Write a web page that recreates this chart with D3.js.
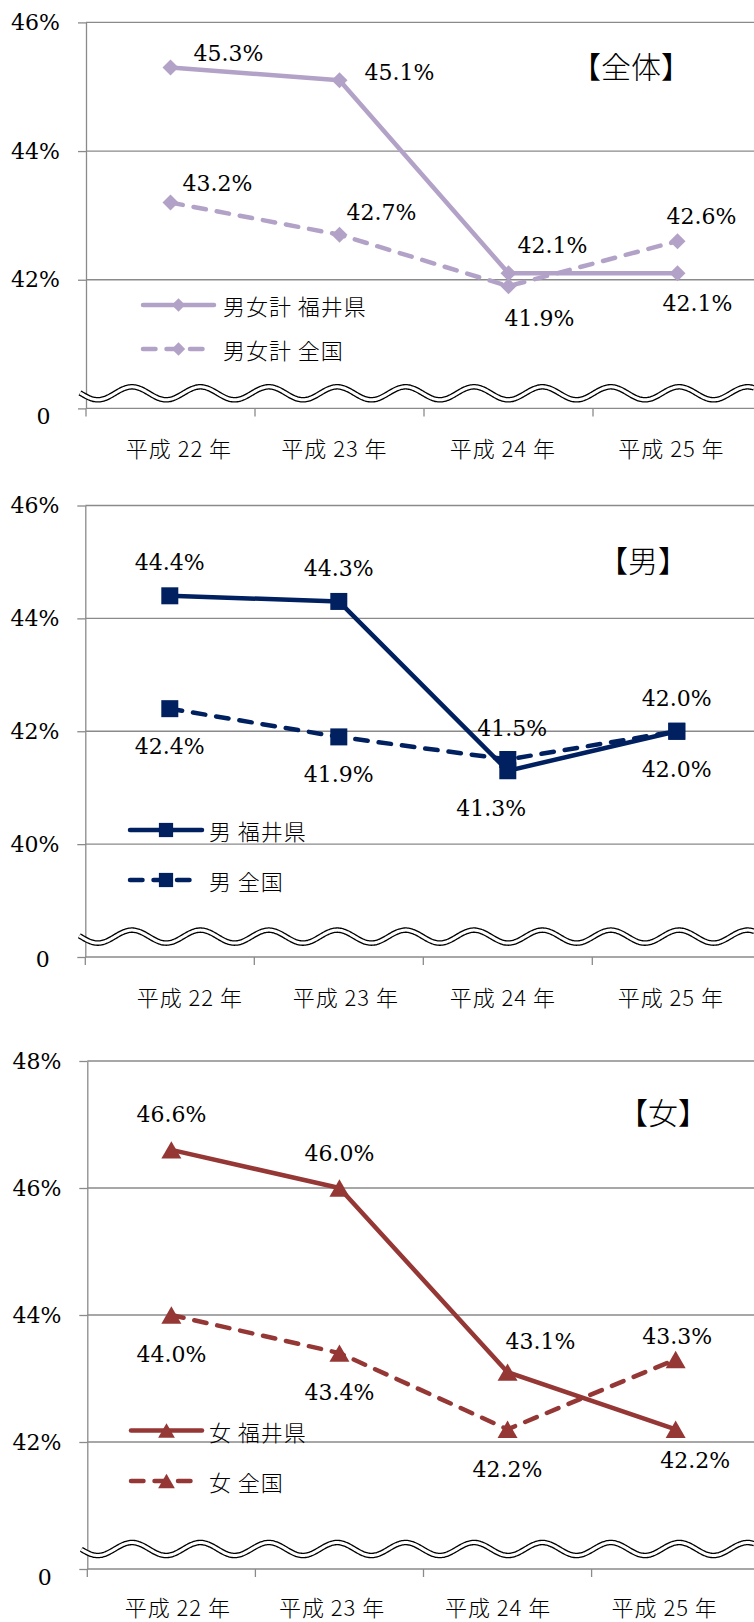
<!DOCTYPE html>
<html>
<head>
<meta charset="utf-8">
<script src="https://cdn.jsdelivr.net/npm/d3@7"></script>
<style>
body { margin: 0; background: #fff; }
svg { display: block; }
</style>
</head>
<body>
<svg id="chart" width="754" height="1622"></svg>
<script>
// data
var categories = [ '平成22年', '平成23年', '平成24年', '平成25年' ];
var tickLabels = [ '平成 22 年', '平成 23 年', '平成 24 年', '平成 25 年' ];

var allFukui    = [ 45.3, 45.1, 42.1, 42.1 ];
var allJapan    = [ 43.2, 42.7, 41.9, 42.6 ];
var maleFukui   = [ 44.4, 44.3, 41.3, 42.0 ];
var maleJapan   = [ 42.4, 41.9, 41.5, 42.0 ];
var femaleFukui = [ 46.6, 46.0, 43.1, 42.2 ];
var femaleJapan = [ 44.0, 43.4, 42.2, 43.3 ];

var yTicksAll    = [ 40, 42, 44, 46 ];
var yTicksMale   = [ 38, 40, 42, 44, 46 ];
var yTicksFemale = [ 40, 42, 44, 46, 48 ];

var namesAll    = [ '男女計 福井県', '男女計 全国' ];
var namesMale   = [ '男 福井県', '男 全国' ];
var namesFemale = [ '女 福井県', '女 全国' ];

var titles = [ '【全体】', '【男】', '【女】' ];

var NUM_FONT = '"DejaVu Serif", "Liberation Serif", serif';
var JP_FONT = '"Noto Sans CJK JP", sans-serif';
var GRID = '#8a8a8a';

// marker shapes, size = bounding width squared
var diamond = { draw: function( ctx, size ){
    var r = Math.sqrt( size ) / 2;
    ctx.moveTo( 0, -r ); ctx.lineTo( r, 0 ); ctx.lineTo( 0, r ); ctx.lineTo( -r, 0 ); ctx.closePath();
} };
var square = { draw: function( ctx, size ){
    var r = Math.sqrt( size ) / 2;
    ctx.rect( -r, -r, r * 2, r * 2 );
} };
var triangle = { draw: function( ctx, size ){
    var w = Math.sqrt( size ) / 2, h = w * 0.87;
    ctx.moveTo( 0, -h ); ctx.lineTo( w, h ); ctx.lineTo( -w, h ); ctx.closePath();
} };

var charts = [
    {
        series: [ allFukui, allJapan ], names: namesAll, ticks: yTicksAll, title: titles[0],
        yTop: 22.4, yBottom: 408.4, x0: 86, bw: 169,
        color: '#b3a2c7', marker: diamond, markerW: 16,
        offsets: [ [ [58,-14], [60,-8.5], [44,-28], [20,30] ], [ [47,-20], [42,-23], [31,32], [24,-25] ] ],
        tickShift: [ 8.5, -5, -5.7, -6 ], labelDy: 39, zeroDy: 8, wave: 393.3,
        legend: { x1: 143, x2: 214, x2dash: 205, tx: 223, y: [ 305, 349 ] },
        titlePos: [ 631, 65 ]
    },
    {
        series: [ maleFukui, maleJapan ], names: namesMale, ticks: yTicksMale, title: titles[1],
        yTop: 505.5, yBottom: 957, x0: 85.3, bw: 169,
        color: '#002060', marker: square, markerW: 17,
        offsets: [ [ [0,-34], [0,-33.6], [-16.5,37], [0,-33.6] ], [ [0,37.5], [0,37.5], [4.5,-31], [0,38] ] ],
        tickShift: [ 20, 7, -5, -6 ], labelDy: 39, zeroDy: 2, wave: 936.6,
        legend: { x1: 130, x2: 202, x2dash: 193, tx: 209, y: [ 830, 880 ] },
        titlePos: [ 643, 558.5 ]
    },
    {
        series: [ femaleFukui, femaleJapan ], names: namesFemale, ticks: yTicksFemale, title: titles[2],
        yTop: 1061, yBottom: 1569, x0: 87.3, bw: 168.1,
        color: '#953735', marker: triangle, markerW: 20,
        offsets: [ [ [0,-36], [0,-35.3], [33,-31], [19.5,31] ], [ [0,39], [0,39.3], [0,39.4], [1.5,-23.7] ] ],
        tickShift: [ 6.5, -7.4, -9.5, -11 ], labelDy: 37, zeroDy: 8, wave: 1549,
        legend: { x1: 131, x2: 202, x2dash: 194, tx: 209, y: [ 1430.5, 1481 ] },
        titlePos: [ 663, 1111 ]
    }
];

var svg = d3.select( '#chart' );

function drawChart( cfg ){
    var g = svg.append( 'g' ),
        ticks = cfg.ticks,
        x = d3.scaleBand().domain( categories ).range( [ cfg.x0, cfg.x0 + cfg.bw * categories.length ] ),
        y = d3.scaleLinear().domain( [ ticks[0], ticks[ticks.length - 1] ] ).range( [ cfg.yBottom, cfg.yTop ] ),
        xEnd = x.range()[1];

    // gridlines
    g.selectAll( 'line.grid' ).data( ticks.slice( 1 ) ).enter().append( 'line' )
        .attr( 'x1', cfg.x0 ).attr( 'x2', xEnd )
        .attr( 'y1', function( d ){ return y( d ); } ).attr( 'y2', function( d ){ return y( d ); } )
        .attr( 'stroke', GRID ).attr( 'stroke-width', 1.3 );

    // y axis
    var yAxis = g.append( 'g' ).attr( 'transform', 'translate(' + cfg.x0 + ',0)' )
        .call( d3.axisLeft( y ).tickValues( ticks ).tickSize( 8 ).tickSizeOuter( 0 ).tickPadding( 18 )
            .tickFormat( function( d ){ return d === ticks[0] ? '0' : d + '%'; } ) );
    yAxis.attr( 'font-family', null ).attr( 'font-size', null );
    yAxis.select( '.domain' ).attr( 'stroke', GRID ).attr( 'stroke-width', 1.3 );
    yAxis.selectAll( '.tick line' ).attr( 'stroke', GRID ).attr( 'stroke-width', 1.3 );
    yAxis.selectAll( '.tick text' )
        .style( 'font-family', NUM_FONT ).style( 'font-size', '22px' ).attr( 'fill', '#000' )
        .filter( function( d ){ return d === ticks[0]; } )
        .attr( 'dx', -9.5 ).attr( 'y', cfg.zeroDy );

    // x axis: baseline, boundary ticks, labels
    g.append( 'line' ).attr( 'x1', cfg.x0 ).attr( 'x2', xEnd )
        .attr( 'y1', cfg.yBottom ).attr( 'y2', cfg.yBottom )
        .attr( 'stroke', GRID ).attr( 'stroke-width', 1.3 );
    g.selectAll( 'line.xtick' ).data( categories ).enter().append( 'line' )
        .attr( 'x1', function( d ){ return x( d ); } ).attr( 'x2', function( d ){ return x( d ); } )
        .attr( 'y1', cfg.yBottom ).attr( 'y2', cfg.yBottom + 8 )
        .attr( 'stroke', GRID ).attr( 'stroke-width', 1.3 );
    g.selectAll( 'text.xlab' ).data( categories ).enter().append( 'text' )
        .style( 'font-family', JP_FONT ).style( 'font-size', '22px' ).style( 'font-weight', 300 )
        .attr( 'letter-spacing', 1 )
        .attr( 'text-anchor', 'middle' ).attr( 'dominant-baseline', 'central' )
        .attr( 'x', function( d, i ){ return x( d ) + x.bandwidth() / 2 + cfg.tickShift[i]; } )
        .attr( 'y', cfg.yBottom + cfg.labelDy )
        .text( function( d, i ){ return tickLabels[i]; } );

    // axis break wave
    var wx = d3.range( cfg.x0 - 6, 755, 1 );
    var wave = d3.line()
        .x( function( d ){ return d; } )
        .y( function( d ){ return cfg.wave - 6.5 * Math.cos( 2 * Math.PI * ( d - 132 ) / 68.4 ); } )
        .curve( d3.curveBasis );
    g.append( 'path' ).attr( 'd', wave( wx ) ).attr( 'fill', 'none' )
        .attr( 'stroke', '#000' ).attr( 'stroke-width', 5.6 );
    g.append( 'path' ).attr( 'd', wave( wx ) ).attr( 'fill', 'none' )
        .attr( 'stroke', '#fff' ).attr( 'stroke-width', 3 );

    // series
    var cx = function( d, i ){ return x( categories[i] ) + x.bandwidth() / 2; };
    var line = d3.line().x( cx ).y( function( d ){ return y( d ); } );
    var sym = d3.symbol().type( cfg.marker ).size( cfg.markerW * cfg.markerW );
    var symSmall = d3.symbol().type( cfg.marker ).size( cfg.markerW * cfg.markerW * 0.7 );

    cfg.series.forEach( function( values, s ){
        var path = g.append( 'path' ).attr( 'd', line( values ) )
            .attr( 'fill', 'none' ).attr( 'stroke', cfg.color ).attr( 'stroke-width', 4.5 )
            .attr( 'stroke-linejoin', 'round' ).attr( 'stroke-linecap', 'round' );
        if ( s === 1 ){
            path.attr( 'stroke-dasharray', '12.5,11' );
        }
    });

    cfg.series.forEach( function( values ){
        g.selectAll( null ).data( values ).enter().append( 'path' )
            .attr( 'd', sym )
            .attr( 'transform', function( d, i ){ return 'translate(' + cx( d, i ) + ',' + y( d ) + ')'; } )
            .attr( 'fill', cfg.color );
    });

    cfg.series.forEach( function( values, s ){
        g.selectAll( null ).data( values ).enter().append( 'text' )
            .style( 'font-family', NUM_FONT ).style( 'font-size', '22px' ).attr( 'fill', '#000' )
            .attr( 'text-anchor', 'middle' )
            .attr( 'x', function( d, i ){ return cx( d, i ) + cfg.offsets[s][i][0]; } )
            .attr( 'y', function( d, i ){ return y( d ) + cfg.offsets[s][i][1] + 8; } )
            .text( function( d ){ return d.toFixed( 1 ) + '%'; } );
    });

    // legend
    var lg = cfg.legend;
    cfg.names.forEach( function( name, s ){
        var ly = lg.y[s];
        var ln = g.append( 'line' ).attr( 'x1', lg.x1 ).attr( 'y1', ly ).attr( 'y2', ly )
            .attr( 'stroke', cfg.color ).attr( 'stroke-width', 4.5 ).attr( 'stroke-linecap', 'round' );
        if ( s === 1 ){
            ln.attr( 'x2', lg.x2dash ).attr( 'stroke-dasharray', '12.5,11' );
        } else {
            ln.attr( 'x2', lg.x2 );
        }
        g.append( 'path' ).attr( 'd', symSmall )
            .attr( 'transform', 'translate(' + ( lg.x1 + lg.x2 ) / 2 + ',' + ly + ')' )
            .attr( 'fill', cfg.color );
        g.append( 'text' )
            .style( 'font-family', JP_FONT ).style( 'font-size', '22px' ).style( 'font-weight', 300 )
            .attr( 'letter-spacing', 1 )
            .attr( 'x', lg.tx ).attr( 'y', ly ).attr( 'dominant-baseline', 'central' )
            .text( name );
    });

    // title
    g.append( 'text' )
        .style( 'font-family', JP_FONT ).style( 'font-size', '30px' ).style( 'font-weight', 300 )
        .attr( 'text-anchor', 'middle' ).attr( 'dominant-baseline', 'central' )
        .attr( 'x', cfg.titlePos[0] ).attr( 'y', cfg.titlePos[1] )
        .text( cfg.title );
}

charts.forEach( drawChart );
</script>
</body>
</html>
